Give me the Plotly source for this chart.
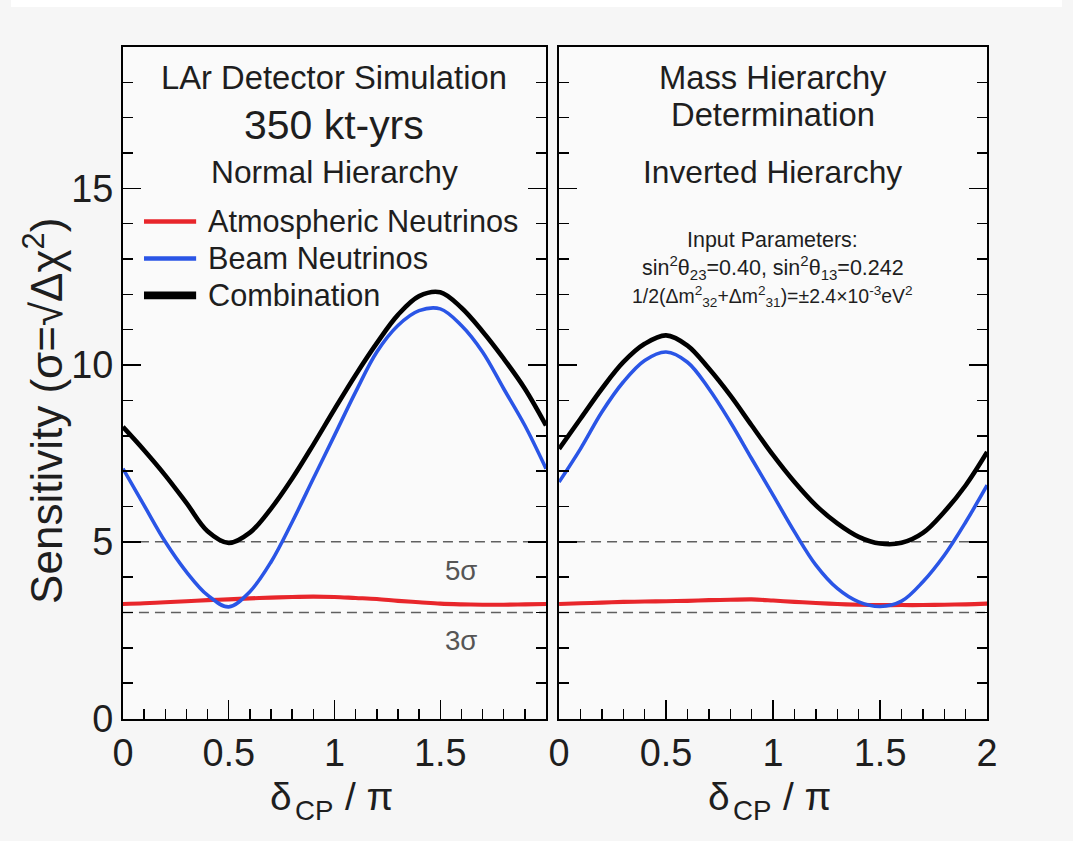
import plotly.graph_objects as go

# ---------------- data ----------------
delta_cp = [0.0, 0.1, 0.2, 0.3, 0.4, 0.5, 0.6, 0.7, 0.8, 0.9, 1.0,
            1.1, 1.2, 1.3, 1.4, 1.5, 1.6, 1.7, 1.8, 1.9, 2.0]

# Normal hierarchy (left panel)
nh_atm = [3.24, 3.26, 3.29, 3.32, 3.35, 3.37, 3.40, 3.42, 3.44, 3.45, 3.44,
          3.41, 3.38, 3.33, 3.29, 3.25, 3.23, 3.22, 3.22, 3.23, 3.24]
nh_beam = [7.07, 6.03, 5.00, 4.15, 3.49, 3.16, 3.59, 4.43, 5.56, 6.79, 8.01,
           9.24, 10.37, 11.12, 11.54, 11.59, 11.12, 10.37, 9.33, 8.29, 7.07]
nh_comb = [8.25, 7.59, 6.88, 6.10, 5.30, 4.97, 5.26, 5.94, 6.79, 7.75, 8.75,
           9.72, 10.62, 11.42, 11.95, 12.06, 11.62, 10.95, 10.18, 9.33, 8.29]

# Inverted hierarchy (right panel)
ih_atm = [3.24, 3.26, 3.28, 3.30, 3.31, 3.32, 3.33, 3.35, 3.36, 3.37, 3.34,
          3.30, 3.27, 3.24, 3.22, 3.21, 3.21, 3.21, 3.22, 3.23, 3.25]
ih_beam = [6.69, 7.63, 8.67, 9.52, 10.13, 10.37, 10.08, 9.33, 8.39, 7.35, 6.32,
           5.28, 4.34, 3.68, 3.30, 3.17, 3.32, 3.87, 4.62, 5.56, 6.60]
ih_comb = [7.63, 8.48, 9.33, 10.08, 10.60, 10.84, 10.55, 9.90, 9.14, 8.29, 7.45,
           6.69, 6.03, 5.52, 5.14, 4.95, 4.97, 5.25, 5.85, 6.60, 7.54]

series_names = ["Atmospheric Neutrinos", "Beam Neutrinos", "Combination"]
sigma_levels = [5, 3]
sigma_labels = ["5σ", "3σ"]
x_ticks_left = [0, 0.5, 1, 1.5]
x_tick_text_left = ["0", "0.5", "1", "1.5"]
x_ticks_right = [0, 0.5, 1, 1.5, 2]
x_tick_text_right = ["0", "0.5", "1", "1.5", "2"]
y_ticks = [0, 5, 10, 15]

# ---------------- style / layout ----------------
W, H = 1073, 841
# the captured page comes out slightly shrunk and centred; positions below are
# given in target-picture pixels and mapped back through this factor/offset
S = 0.977
OFFX = W * (1 - S) / 2

FONT = "Liberation Sans, Arial, Helvetica, sans-serif"
TXT = "#1e1e1e"
colors = ["#e8262b", "#2a55e6", "#000000"]
widths = [4, 3.5, 4.5]
legend_widths = [4.5, 4.5, 7.5]


def px(x):
    return ((x - OFFX) / S) / W


def py(y):
    return 1 - (y / S) / H


def sz(v):
    return v / S


fig = go.Figure()

panels = [("x", "y", [nh_atm, nh_beam, nh_comb]),
          ("x2", "y2", [ih_atm, ih_beam, ih_comb])]
for xa, ya, ser in panels:
    for name, vals, c, w in zip(series_names, ser, colors, widths):
        fig.add_trace(go.Scatter(
            x=delta_cp, y=vals, mode="lines", name=name,
            line=dict(color=c, width=sz(w), shape="spline", smoothing=1.0),
            xaxis=xa, yaxis=ya, showlegend=False, hoverinfo="skip"))

shapes = []
# white strip at the very top of the page
shapes.append(dict(type="rect", xref="paper", yref="paper", x0=0, x1=1,
                   y0=py(7), y1=1, fillcolor="white", line=dict(width=0),
                   layer="below"))
for xa, ya in [("x", "y"), ("x2", "y2")]:
    for lvl in sigma_levels:
        shapes.append(dict(type="line", xref=xa, yref=ya, x0=0, x1=2,
                           y0=lvl, y1=lvl,
                           line=dict(color="#606060", width=1.6,
                                     dash="10px,6px"),
                           layer="below"))

# legend samples (drawn manually)
legend_rows = [222, 259, 296]
for row, c, lw in zip(legend_rows, colors, legend_widths):
    shapes.append(dict(type="line", xref="paper", yref="paper",
                       x0=px(145), x1=px(197), y0=py(row), y1=py(row),
                       line=dict(color=c, width=sz(lw))))

annotations = []


def ann(text, x, y, size, xanchor="center", color=TXT, **kw):
    annotations.append(dict(text=text, x=px(x), y=py(y), xref="paper",
                            yref="paper", showarrow=False, xanchor=xanchor,
                            yanchor="middle",
                            font=dict(family=FONT, size=sz(size), color=color),
                            **kw))


for row, name in zip(legend_rows, series_names):
    ann(name, 207, row, 30, xanchor="left")

ann("LAr Detector Simulation", 335, 78, 32)
ann("350 kt-yrs", 335, 125, 40)
ann("Normal Hierarchy", 335, 172, 31)

ann("Mass Hierarchy", 772, 78, 32)
ann("Determination", 772, 115, 32)
ann("Inverted Hierarchy", 772, 172, 31)
ann("Input Parameters:", 772, 240, 21)
ann("sin<sup>2</sup>θ<sub>23</sub>=0.40, sin<sup>2</sup>θ<sub>13</sub>=0.242",
    772, 268, 21)
ann("1/2(Δm<sup>2</sup><sub>32</sub>+Δm<sup>2</sup><sub>31</sub>)=±2.4×10<sup>-3</sup>eV<sup>2</sup>",
    772, 297, 19)

for lvl, lab, yy in zip(sigma_levels, sigma_labels, [572, 642]):
    ann(lab, 461, yy, 27, color="#555555")

# x-axis titles: delta, subscript CP, "/ pi" as separate pieces
for cx in (335, 772):
    ann("δ", cx - 40, 798, 38, xanchor="right")
    ann("CP", cx - 41, 812, 27, xanchor="left")
    ann("/ π", cx + 8, 798, 38, xanchor="left")

ann("Sensitivity (σ=√Δχ<sup>2</sup>)", 44, 412, 43, textangle=-90)

axis_common = dict(showline=True, linecolor="black", linewidth=2,
                   ticks="inside", tickcolor="black", tickwidth=1.5,
                   showgrid=False, zeroline=False, fixedrange=True,
                   tickfont=dict(family=FONT, size=sz(37), color=TXT))

minor_x = dict(tickmode="linear", tick0=0, dtick=0.1, ticklen=sz(9),
               ticks="inside", tickcolor="black", tickwidth=1.5)
minor_y = dict(tickmode="linear", tick0=0, dtick=1, ticklen=sz(10),
               ticks="inside", tickcolor="black", tickwidth=1.5)

xdom1 = [px(124), px(546)]
xdom2 = [px(559), px(986)]
ydom = [py(720), py(47)]

fig.update_layout(
    width=W, height=H,
    margin=dict(l=0, r=0, t=0, b=0),
    paper_bgcolor="#f6f6f6",
    plot_bgcolor="#fafafa",
    showlegend=False,
    dragmode=False,
    shapes=shapes,
    annotations=annotations,
    xaxis=dict(domain=xdom1, range=[0, 2], anchor="y", mirror=True,
               tickmode="array", tickvals=x_ticks_left,
               ticktext=x_tick_text_left, ticklen=sz(18), minor=minor_x,
               **axis_common),
    xaxis2=dict(domain=xdom2, range=[0, 2], anchor="y2", mirror=True,
                tickmode="array", tickvals=x_ticks_right,
                ticktext=x_tick_text_right, ticklen=sz(18), minor=minor_x,
                **axis_common),
    yaxis=dict(domain=ydom, range=[0, 19], anchor="x", mirror="ticks",
               tickmode="array", tickvals=y_ticks, ticklen=sz(18),
               minor=minor_y, **axis_common),
    yaxis2=dict(domain=ydom, range=[0, 19], anchor="x2", mirror="ticks",
                tickmode="array", tickvals=y_ticks, ticklen=sz(18),
                showticklabels=False, minor=minor_y, **axis_common),
)

fig.write_html("out.html", config={"staticPlot": True, "displayModeBar": False})
